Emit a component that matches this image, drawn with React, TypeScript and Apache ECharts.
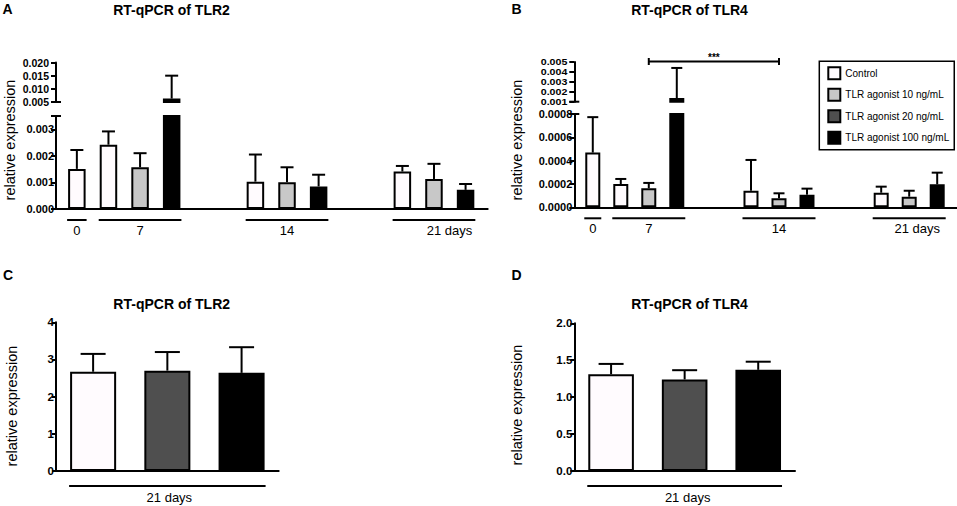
import React, { useEffect, useRef } from "react";
import * as echarts from "echarts";

// ---------------- data ----------------
const treatments = ["Control", "TLR agonist 10 ng/mL", "TLR agonist 20 ng/mL", "TLR agonist 100 ng/mL"];
const days = ["0", "7", "14", "21"];
const dayUnit = " days";
const panelLetters = ["A", "B", "C", "D"];
const panelTitles = ["RT-qPCR of TLR2", "RT-qPCR of TLR4", "RT-qPCR of TLR2", "RT-qPCR of TLR4"];
const yAxisName = "relative expression";

// Panel A – TLR2, per day [0, 7, 14, 21]; null = not measured
const tlr2ControlMean = [0.00151, 0.00242, 0.00103, 0.00141];
const tlr2ControlSd = [0.00071, 0.0005, 0.00102, 0.00021];
const tlr2Ag10Mean = [null, 0.00157, 0.00101, 0.00113];
const tlr2Ag10Sd = [null, 0.00053, 0.00056, 0.00057];
const tlr2Ag100Mean = [null, 0.0063, 0.00085, 0.00072];
const tlr2Ag100Sd = [null, 0.0087, 0.00044, 0.00022];

// Panel B – TLR4, per day [0, 7, 14, 21]
const tlr4ControlMean = [0.000469, 0.0002, 0.000142, 0.000125];
const tlr4ControlSd = [0.000304, 0.000043, 0.000264, 0.000052];
const tlr4Ag10Mean = [null, 0.000163, 0.000077, 0.000091];
const tlr4Ag10Sd = [null, 0.000046, 0.000043, 0.000051];
const tlr4Ag100Mean = [null, 0.00137, 0.000108, 0.000197];
const tlr4Ag100Sd = [null, 0.00303, 0.000052, 0.0001];

// Panels C, D – day 21: Control, 20 ng/mL, 100 ng/mL
const day21Treatments = [0, 2, 3];
const tlr2Day21Mean = [2.67, 2.7, 2.64];
const tlr2Day21Sd = [0.48, 0.5, 0.69];
const tlr4Day21Mean = [1.31, 1.24, 1.37];
const tlr4Day21Sd = [0.14, 0.125, 0.11];

// axis segments (broken axes in A and B)
const tlr2Upper = { min: 0.005, max: 0.02, interval: 0.005, digits: 3 };
const tlr2Lower = { min: 0, max: 0.0035, interval: 0.001, digits: 3 };
const tlr4Upper = { min: 0.001, max: 0.005, interval: 0.001, digits: 3 };
const tlr4Lower = { min: 0, max: 0.0008, interval: 0.0002, digits: 4 };
const tlr2Day21Range = { min: 0, max: 4, interval: 1, digits: 0 };
const tlr4Day21Range = { min: 0, max: 2, interval: 0.5, digits: 1 };

// significance bracket in B
const sigBracket = { fromDay: 1, fromTreatment: 1, toDay: 2, toTreatment: 1, label: "***" };

// ---------------- styles / layout ----------------
const FONT = '"Liberation Sans", Arial, Helvetica, sans-serif';
const INK = "#000000";
const FILLS = ["#fffbfe", "#c8c8c8", "#4f4f4f", "#000000"];
const X_MIN = -0.66;
const X_MAX = 13;
const GROUP_START = [0, 1, 5.65, 10.3];
const DAY21_BAR_FRAC = 0.62;

type Range = { min: number; max: number; interval: number; digits: number };
type TSeries = { t: number; mean: (number | null)[]; sd: (number | null)[] };
type LabelStyle = { fontSize: number; tick: number; margin: number; custom: boolean; scaleX?: number };

function slotOf(list: TSeries[], d: number, t: number): number {
  let k = 0;
  for (const s of list) {
    if (s.mean[d] == null) continue;
    if (s.t === t) return GROUP_START[d] + k;
    k++;
  }
  return NaN;
}

function tickValues(r: Range): number[] {
  const vals: number[] = [];
  for (let k = 0; r.min + k * r.interval <= r.max + 1e-12; k++) {
    vals.push(+(r.min + k * r.interval).toFixed(10));
  }
  return vals;
}

function valueAxis(gridIndex: number, r: Range, ls: LabelStyle) {
  return {
    gridIndex,
    type: "value",
    min: r.min,
    max: r.max,
    interval: r.interval,
    axisLine: { show: true, onZero: false, lineStyle: { color: INK, width: 2 } },
    axisTick: { show: true, length: ls.tick, lineStyle: { color: INK, width: 2 } },
    splitLine: { show: false },
    axisLabel: {
      show: !ls.custom,
      color: INK,
      fontFamily: FONT,
      fontWeight: "bold",
      fontSize: ls.fontSize,
      margin: ls.margin,
      showMinLabel: true,
      showMaxLabel: true,
      formatter: (v: number) => {
        const k = (v - r.min) / r.interval;
        return Math.abs(k - Math.round(k)) < 1e-6 ? v.toFixed(r.digits) : "";
      },
    },
  };
}

// tick labels drawn as text at the axis' own tick coordinates (for tightly packed segments)
function tickLabelSeries(xi: number, yi: number, r: Range, ls: LabelStyle) {
  const vals = tickValues(r);
  return {
    type: "custom",
    xAxisIndex: xi,
    yAxisIndex: yi,
    data: vals.map((v) => [X_MIN, v]),
    z: 6,
    silent: true,
    encode: { x: 0, y: 1 },
    renderItem: (params: any, api: any) => {
      const v = vals[params.dataIndex];
      const c = api.coord([X_MIN, v]);
      const el: any = text(
        v.toFixed(r.digits),
        c[0] - ls.tick - ls.margin,
        c[1],
        `bold ${ls.fontSize}px ${FONT}`,
        "right"
      );
      if (ls.scaleX) el.scaleX = ls.scaleX;
      return el;
    },
  };
}

function barSeries(t: number, xi: number, yi: number, data: any[], barWidth: number | string) {
  return {
    type: "bar",
    name: treatments[t],
    xAxisIndex: xi,
    yAxisIndex: yi,
    data,
    barWidth,
    barGap: "-100%",
    clip: true,
    z: 2,
    silent: true,
    itemStyle: { color: FILLS[t], borderColor: INK, borderWidth: 2 },
    emphasis: { disabled: true },
  };
}

function line(x1: number, y1: number, x2: number, y2: number, w = 2) {
  return { type: "line", shape: { x1, y1, x2, y2 }, style: { stroke: INK, lineWidth: w } };
}

function text(str: string, x: number, y: number, font: string, align = "center") {
  return {
    type: "text",
    x,
    y,
    style: {
      text: str,
      fill: INK,
      font,
      textAlign: align,
      textVerticalAlign: "middle",
      align,
      verticalAlign: "middle",
    },
  };
}

function errorSeries(xi: number, yi: number, data: any[], r: Range, capHalf: number) {
  return {
    type: "custom",
    xAxisIndex: xi,
    yAxisIndex: yi,
    data,
    z: 5,
    silent: true,
    encode: { x: 0, y: 1 },
    renderItem: (params: any, api: any) => {
      const x = api.value(0);
      const m = api.value(1);
      const s = api.value(2);
      const top = m + s;
      const children: any[] = [];
      if (!(top <= r.min || m >= r.max)) {
        const lo = Math.max(m, r.min);
        const hi = Math.min(top, r.max);
        const p0 = api.coord([x, lo]);
        const p1 = api.coord([x, hi]);
        children.push(line(p0[0], p0[1], p1[0], p1[1]));
        if (top <= r.max) children.push(line(p1[0] - capHalf, p1[1], p1[0] + capHalf, p1[1]));
      }
      return { type: "group", children };
    },
  };
}

function breakCap(xi: number, yi: number, yVal: number) {
  return {
    type: "custom",
    xAxisIndex: xi,
    yAxisIndex: yi,
    data: [[X_MIN, yVal]],
    z: 6,
    silent: true,
    encode: { x: 0, y: 1 },
    renderItem: (params: any, api: any) => {
      const c = api.coord([api.value(0), api.value(1)]);
      return line(c[0] - 5, c[1], c[0] + 5, c[1]);
    },
  };
}

type Group = { from: number; to: number; label: string; shift: number };

function groupLineSeries(
  xi: number,
  yi: number,
  groups: Group[],
  halfBar: (api: any) => number,
  lineDy: number,
  labelDy: number,
  fontSize: number
) {
  return {
    type: "custom",
    xAxisIndex: xi,
    yAxisIndex: yi,
    data: groups.map((g, i) => [g.from, 0, g.to, i]),
    z: 6,
    silent: true,
    encode: { x: 0, y: 1 },
    renderItem: (params: any, api: any) => {
      const g = groups[params.dataIndex];
      const a = api.coord([g.from, 0]);
      const b = api.coord([g.to, 0]);
      const hb = halfBar(api);
      const x1 = a[0] - hb;
      const x2 = b[0] + hb;
      const y = a[1] + lineDy;
      return {
        type: "group",
        children: [
          line(x1, y, x2, y),
          text(g.label, (x1 + x2) / 2 + g.shift, a[1] + labelDy, `${fontSize}px ${FONT}`),
        ],
      };
    },
  };
}

type TimePanel = {
  series: TSeries[];
  upper: Range;
  lower: Range;
  upperLabels: LabelStyle;
  lowerLabels: LabelStyle;
  left: number;
  width: number;
  upperTop: number;
  upperBottom: number;
  lowerTop: number;
  lowerBottom: number;
  barWidth: number;
  capHalf: number;
  lastLabelShift: number;
};

function addTimePanel(opt: any, p: TimePanel) {
  const gU = opt.grid.length;
  const gL = gU + 1;
  opt.grid.push({ left: p.left, top: p.upperTop, width: p.width, height: p.upperBottom - p.upperTop });
  opt.grid.push({ left: p.left, top: p.lowerTop, width: p.width, height: p.lowerBottom - p.lowerTop });
  const xU = opt.xAxis.length;
  const xL = xU + 1;
  opt.xAxis.push({ gridIndex: gU, type: "value", min: X_MIN, max: X_MAX, show: false });
  opt.xAxis.push({
    gridIndex: gL,
    type: "value",
    min: X_MIN,
    max: X_MAX,
    axisLine: { show: true, onZero: false, lineStyle: { color: INK, width: 2 } },
    axisTick: { show: false },
    axisLabel: { show: false },
    splitLine: { show: false },
  });
  const yU = opt.yAxis.length;
  const yL = yU + 1;
  opt.yAxis.push(valueAxis(gU, p.upper, p.upperLabels));
  opt.yAxis.push(valueAxis(gL, p.lower, p.lowerLabels));
  if (p.upperLabels.custom) opt.series.push(tickLabelSeries(xU, yU, p.upper, p.upperLabels));
  if (p.lowerLabels.custom) opt.series.push(tickLabelSeries(xL, yL, p.lower, p.lowerLabels));
  const parts: [number, number, Range][] = [
    [xU, yU, p.upper],
    [xL, yL, p.lower],
  ];
  for (const s of p.series) {
    const bars: number[][] = [];
    const errs: number[][] = [];
    days.forEach((_, d) => {
      const m = s.mean[d];
      if (m == null) return;
      const x = slotOf(p.series, d, s.t);
      bars.push([x, m]);
      errs.push([x, m, s.sd[d] as number]);
    });
    for (const [xi, yi, r] of parts) {
      opt.series.push(barSeries(s.t, xi, yi, bars, p.barWidth));
      opt.series.push(errorSeries(xi, yi, errs, r, p.capHalf));
    }
  }
  opt.series.push(breakCap(xU, yU, p.upper.min), breakCap(xL, yL, p.lower.max));
  const groups: Group[] = days.map((label, d) => {
    const n = p.series.filter((s) => s.mean[d] != null).length;
    const last = d === days.length - 1;
    return {
      from: GROUP_START[d],
      to: GROUP_START[d] + n - 1,
      label: last ? label + dayUnit : label,
      shift: last ? p.lastLabelShift : 0,
    };
  });
  opt.series.push(groupLineSeries(xL, yL, groups, () => p.barWidth / 2 + 1, 11, 21.5, 13));
  return { xU, yU };
}

type Day21Panel = {
  mean: number[];
  sd: number[];
  range: Range;
  left: number;
  top: number;
  width: number;
  height: number;
  capHalf: number;
  labelShift: number;
};

function addDay21Panel(opt: any, p: Day21Panel) {
  const g = opt.grid.length;
  opt.grid.push({ left: p.left, top: p.top, width: p.width, height: p.height });
  const xi = opt.xAxis.length;
  opt.xAxis.push({
    gridIndex: g,
    type: "category",
    data: day21Treatments.map((t) => treatments[t]),
    boundaryGap: true,
    axisLine: { show: true, onZero: false, lineStyle: { color: INK, width: 2 } },
    axisTick: { show: false },
    axisLabel: { show: false },
    splitLine: { show: false },
  });
  const yi = opt.yAxis.length;
  opt.yAxis.push(valueAxis(g, p.range, { fontSize: 11.5, tick: 4, margin: 2, custom: false }));
  day21Treatments.forEach((t, k) => {
    const data = day21Treatments.map((_, j) => (j === k ? p.mean[k] : "-"));
    opt.series.push(barSeries(t, xi, yi, data, `${DAY21_BAR_FRAC * 100}%`));
  });
  opt.series.push(
    errorSeries(
      xi,
      yi,
      p.mean.map((m, k) => [k, m, p.sd[k]]),
      p.range,
      p.capHalf
    )
  );
  opt.series.push(
    groupLineSeries(
      xi,
      yi,
      [{ from: 0, to: day21Treatments.length - 1, label: days[3] + dayUnit, shift: p.labelShift }],
      (api: any) => (api.size([1, 0])[0] * DAY21_BAR_FRAC) / 2 + 1,
      15,
      26,
      13
    )
  );
}

function sigSeries(xi: number, yi: number, list: TSeries[], r: Range) {
  const from = slotOf(list, sigBracket.fromDay, sigBracket.fromTreatment);
  const to = slotOf(list, sigBracket.toDay, sigBracket.toTreatment);
  return {
    type: "custom",
    xAxisIndex: xi,
    yAxisIndex: yi,
    data: [[from, r.max, to]],
    z: 6,
    silent: true,
    encode: { x: 0, y: 1 },
    renderItem: (params: any, api: any) => {
      const a = api.coord([from, r.max]);
      const b = api.coord([to, r.max]);
      const y = a[1] - 0.5;
      return {
        type: "group",
        children: [
          line(a[0], y, b[0], y),
          line(a[0], y - 3.5, a[0], y + 3.5),
          line(b[0], y - 3.5, b[0], y + 3.5),
          text(sigBracket.label, (a[0] + b[0]) / 2, y - 4.5, `bold 10px ${FONT}`),
        ],
      };
    },
  };
}

function buildOption() {
  const opt: any = {
    animation: false,
    backgroundColor: "#ffffff",
    textStyle: { fontFamily: FONT, color: INK },
    grid: [],
    xAxis: [],
    yAxis: [],
    series: [],
  };

  const seriesA: TSeries[] = [
    { t: 0, mean: tlr2ControlMean, sd: tlr2ControlSd },
    { t: 1, mean: tlr2Ag10Mean, sd: tlr2Ag10Sd },
    { t: 3, mean: tlr2Ag100Mean, sd: tlr2Ag100Sd },
  ];
  const seriesB: TSeries[] = [
    { t: 0, mean: tlr4ControlMean, sd: tlr4ControlSd },
    { t: 1, mean: tlr4Ag10Mean, sd: tlr4Ag10Sd },
    { t: 3, mean: tlr4Ag100Mean, sd: tlr4Ag100Sd },
  ];
  const mainLabels: LabelStyle = { fontSize: 11, tick: 5, margin: 2, custom: false };
  const upperALabels: LabelStyle = { fontSize: 10.5, tick: 5, margin: 2, custom: true };
  const upperBLabels: LabelStyle = { fontSize: 8.5, tick: 5, margin: 2, custom: true, scaleX: 1.25 };

  addTimePanel(opt, {
    series: seriesA,
    upper: tlr2Upper,
    lower: tlr2Lower,
    upperLabels: upperALabels,
    lowerLabels: mainLabels,
    left: 56,
    width: 431.7,
    upperTop: 62.5,
    upperBottom: 102,
    lowerTop: 116,
    lowerBottom: 209,
    barWidth: 17.5,
    capHalf: 6.5,
    lastLabelShift: 15.5,
  });
  const b = addTimePanel(opt, {
    series: seriesB,
    upper: tlr4Upper,
    lower: tlr4Lower,
    upperLabels: upperBLabels,
    lowerLabels: mainLabels,
    left: 574.3,
    width: 382.5,
    upperTop: 62,
    upperBottom: 101.7,
    lowerTop: 114,
    lowerBottom: 207.3,
    barWidth: 15,
    capHalf: 5.5,
    lastLabelShift: 8,
  });
  opt.series.push(sigSeries(b.xU, b.yU, seriesB, tlr4Upper));

  addDay21Panel(opt, {
    mean: tlr2Day21Mean,
    sd: tlr2Day21Sd,
    range: tlr2Day21Range,
    left: 56,
    top: 322.3,
    width: 222.7,
    height: 148.7,
    capHalf: 12.5,
    labelShift: 2,
  });
  addDay21Panel(opt, {
    mean: tlr4Day21Mean,
    sd: tlr4Day21Sd,
    range: tlr4Day21Range,
    left: 574.3,
    top: 323.3,
    width: 220.7,
    height: 147.7,
    capHalf: 12.5,
    labelShift: 3,
  });

  opt.legend = {
    data: treatments,
    orient: "vertical",
    left: 819.3,
    top: 61.3,
    padding: [5, 5, 5, 8],
    itemGap: 7.5,
    itemWidth: 12,
    itemHeight: 12,
    icon: "rect",
    borderColor: INK,
    borderWidth: 1.5,
    selectedMode: false,
    textStyle: { fontSize: 10, color: INK, fontFamily: FONT },
    itemStyle: { borderColor: INK, borderWidth: 2 },
  };

  const titlePos = [
    [171.5, 9.5],
    [689.5, 9.5],
    [171.7, 303.5],
    [689.5, 303.5],
  ];
  const letterPos = [
    [2.5, 8.5],
    [511.5, 8.5],
    [3, 275],
    [511.5, 275],
  ];
  const yNamePos = [
    [9.5, 140],
    [517, 140],
    [11.5, 406],
    [517, 405],
  ];
  const graphic: any[] = [];
  panelTitles.forEach((t, i) => graphic.push(text(t, titlePos[i][0], titlePos[i][1], `bold 14px ${FONT}`)));
  panelLetters.forEach((t, i) =>
    graphic.push(text(t, letterPos[i][0], letterPos[i][1], `bold 14px ${FONT}`, "left"))
  );
  yNamePos.forEach((p) => {
    const el: any = text(yAxisName, p[0], p[1], `14.5px ${FONT}`);
    el.rotation = Math.PI / 2;
    graphic.push(el);
  });
  opt.graphic = { elements: graphic };
  return opt;
}

export default function App() {
  const ref = useRef<HTMLDivElement>(null);
  useEffect(() => {
    document.body.style.margin = "0";
    const chart = echarts.init(ref.current as HTMLDivElement, undefined, { renderer: "svg" });
    chart.setOption(buildOption());
    return () => chart.dispose();
  }, []);
  return (
    <div
      ref={ref}
      style={{ position: "absolute", left: 0, top: 0, width: 957, height: 506, background: "#fff" }}
    />
  );
}
